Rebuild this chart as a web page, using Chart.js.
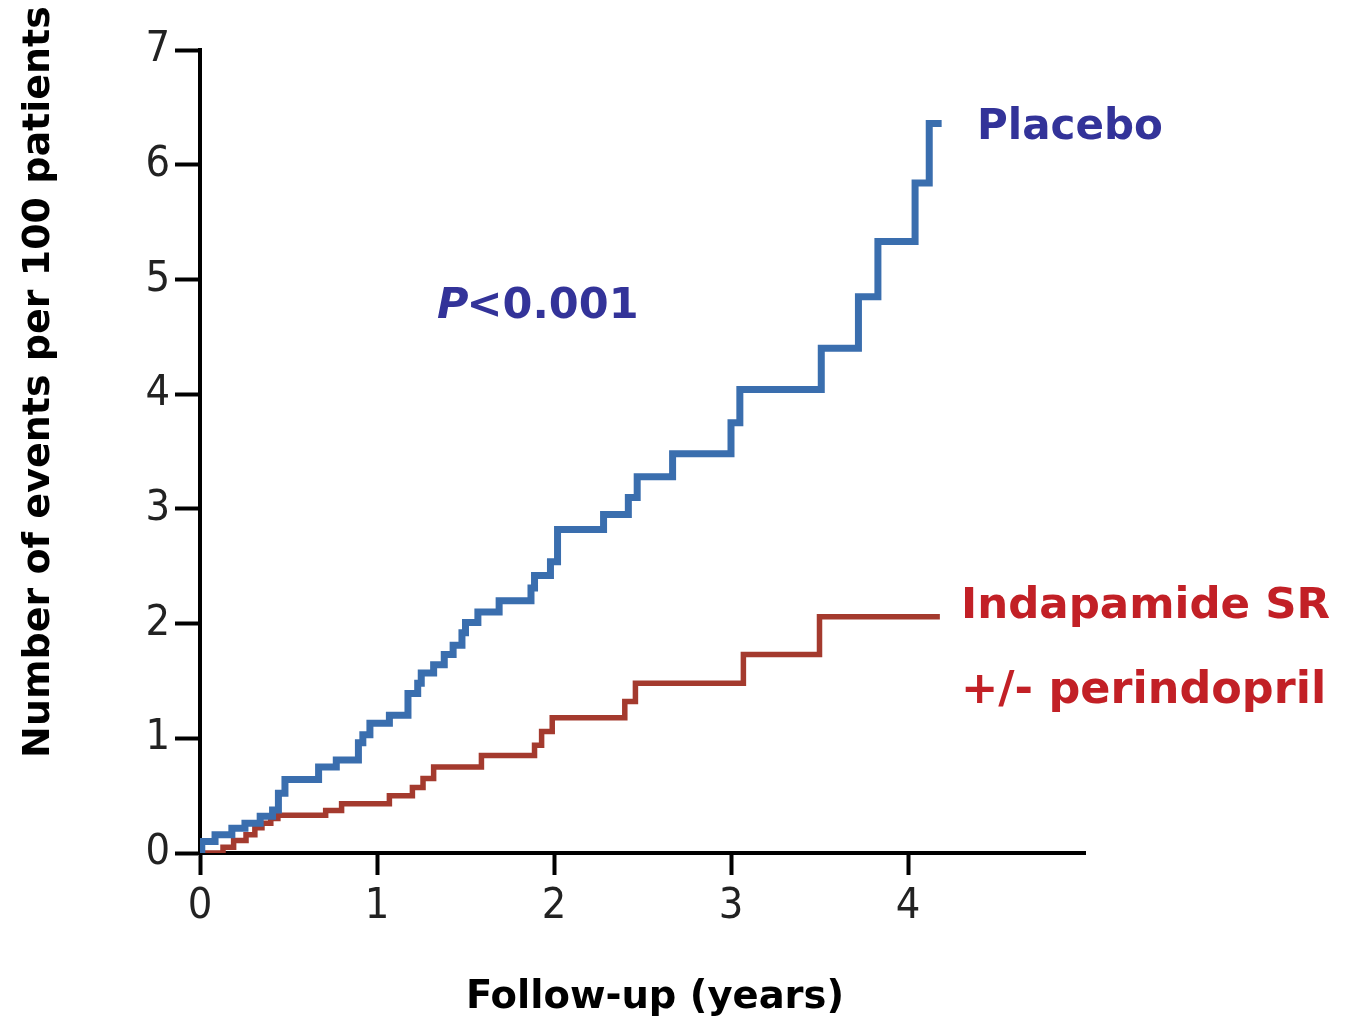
<!DOCTYPE html>
<html>
<head>
<meta charset="utf-8">
<script src="https://cdn.jsdelivr.net/npm/chart.js@4"></script>
<style>
html,body{margin:0;padding:0;background:#fff;}
#wrap{width:1348px;height:1017px;position:relative;}
</style>
</head>
<body>
<div id="wrap"><canvas id="c" width="1348" height="1017"></canvas></div>
<script>
// ---- data ----
const placeboX = [0, 0.01, 0.085, 0.18, 0.254, 0.34, 0.41, 0.443, 0.48, 0.67, 0.77, 0.895, 0.92, 0.96, 1.07, 1.175, 1.23, 1.25, 1.32, 1.38, 1.43, 1.48, 1.50, 1.57, 1.69, 1.87, 1.89, 1.98, 2.02, 2.28, 2.42, 2.47, 2.67, 3.0, 3.05, 3.51, 3.72, 3.83, 4.04, 4.12, 4.19];
const placeboY = [0, 0.10, 0.16, 0.215, 0.26, 0.32, 0.375, 0.52, 0.64, 0.75, 0.81, 0.96, 1.03, 1.13, 1.20, 1.39, 1.48, 1.57, 1.64, 1.73, 1.81, 1.92, 2.01, 2.10, 2.20, 2.31, 2.42, 2.54, 2.82, 2.95, 3.10, 3.28, 3.48, 3.75, 4.04, 4.40, 4.85, 5.33, 5.84, 6.36, 6.36];
const indapX = [0, 0.13, 0.19, 0.26, 0.31, 0.35, 0.40, 0.44, 0.71, 0.80, 1.07, 1.20, 1.26, 1.32, 1.59, 1.89, 1.93, 1.99, 2.40, 2.46, 3.07, 3.50, 4.18];
const indapY = [0, 0.05, 0.11, 0.16, 0.22, 0.26, 0.30, 0.33, 0.37, 0.43, 0.50, 0.57, 0.65, 0.75, 0.85, 0.94, 1.06, 1.18, 1.32, 1.48, 1.73, 2.06, 2.06];
const xTicks = [0, 1, 2, 3, 4];
const yTicks = [0, 1, 2, 3, 4, 5, 6, 7];
const seriesNames = ["Placebo", "Indapamide SR +/- perindopril"];
const xTitle = "Follow-up (years)";
const yTitle = "Number of events per 100 patients";
const pText = "<0.001";

const toPts = (xs, ys) => xs.map((x, i) => ({x: x, y: ys[i]}));

const tickFont = {family: "'Liberation Sans Narrow', 'DejaVu Sans Condensed', sans-serif", size: 43};

const textPlugin = {
  id: 'texts',
  afterDraw(chart) {
    const ctx = chart.ctx;
    ctx.save();
    const fam = "'DejaVu Sans', Verdana, sans-serif";
    ctx.textBaseline = 'alphabetic';
    ctx.textAlign = 'left';
    // Placebo
    ctx.fillStyle = '#333399';
    ctx.font = "bold 42px " + fam;
    ctx.fillText(seriesNames[0], 977, 139);
    // P<0.001
    ctx.font = "italic bold 43px " + fam;
    ctx.fillText('P', 437, 318);
    const pw = ctx.measureText('P').width;
    ctx.font = "bold 43px " + fam;
    ctx.fillText(pText, 437 + pw - 2, 318);
    // Indapamide
    ctx.fillStyle = '#c22026';
    ctx.font = "bold 43.5px " + fam;
    ctx.fillText('Indapamide SR', 961, 618);
    ctx.font = "bold 44.5px " + fam;
    ctx.fillText('+/- perindopril', 961, 703);
    // axis titles
    ctx.fillStyle = '#000';
    ctx.font = "bold 38.5px " + fam;
    ctx.textAlign = 'center';
    ctx.fillText(xTitle, 655, 1008);
    ctx.translate(49, 382);
    ctx.rotate(-Math.PI / 2);
    ctx.font = "bold 38px " + fam;
    ctx.fillText(yTitle, 0, 0);
    ctx.restore();
  }
};

new Chart(document.getElementById('c'), {
  type: 'line',
  data: {
    datasets: [
      {label: seriesNames[0], data: toPts(placeboX, placeboY), stepped: true, borderColor: '#3a6eae', borderWidth: 7, pointRadius: 0, fill: false, borderJoinStyle: 'miter', borderCapStyle: 'butt'},
      {label: seriesNames[1], data: toPts(indapX, indapY), stepped: true, borderColor: '#a43a2e', borderWidth: 5.5, pointRadius: 0, fill: false, borderJoinStyle: 'miter', borderCapStyle: 'butt'}
    ]
  },
  options: {
    responsive: false,
    animation: false,
    layout: {padding: {left: 0, top: 50, right: 263, bottom: 0}},
    plugins: {legend: {display: false}, tooltip: {enabled: false}},
    scales: {
      x: {
        type: 'linear', min: 0, max: 5,
        afterBuildTicks: s => { s.ticks = xTicks.map(v => ({value: v})); },
        afterFit: s => { s.height = 164; },
        border: {display: true, color: '#000', width: 4},
        grid: {drawOnChartArea: false, drawTicks: true, tickLength: 22, tickWidth: 4, tickColor: '#000', color: '#000'},
        ticks: {color: '#222', font: tickFont, padding: 6, maxRotation: 0, autoSkip: false}
      },
      y: {
        type: 'linear', min: 0, max: 7,
        afterBuildTicks: s => { s.ticks = yTicks.map(v => ({value: v})); },
        afterFit: s => { s.width = 200; },
        border: {display: true, color: '#000', width: 4},
        grid: {drawOnChartArea: false, drawTicks: true, tickLength: 25, tickWidth: 4, tickColor: '#000', color: '#000'},
        ticks: {color: '#222', font: tickFont, padding: 5, autoSkip: false}
      }
    }
  },
  plugins: [textPlugin]
});
</script>
</body>
</html>
